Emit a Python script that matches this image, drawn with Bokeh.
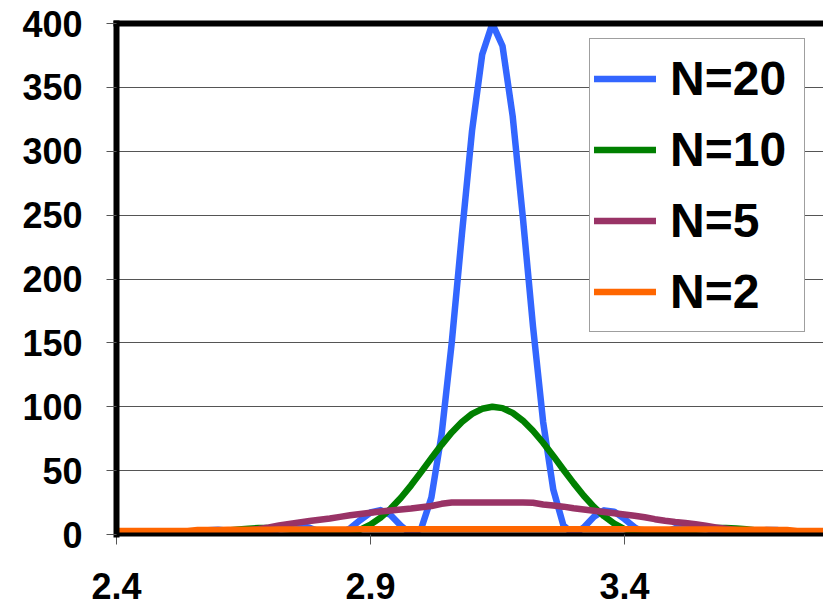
from bokeh.plotting import figure
from bokeh.models import Range1d, FixedTicker, LinearAxis, Legend, LegendItem
from bokeh.embed import file_html
from bokeh.resources import INLINE

# ---- data ----
x = [2.40, 2.42, 2.44, 2.46, 2.48, 2.50, 2.52, 2.54, 2.56, 2.58,
     2.60, 2.62, 2.64, 2.66, 2.68, 2.70, 2.72, 2.74, 2.76, 2.78,
     2.80, 2.82, 2.84, 2.86, 2.88, 2.90, 2.92, 2.94, 2.96, 2.98,
     3.00, 3.02, 3.04, 3.06, 3.08, 3.10, 3.12, 3.14, 3.16, 3.18,
     3.20, 3.22, 3.24, 3.26, 3.28, 3.30, 3.32, 3.34, 3.36, 3.38,
     3.40, 3.42, 3.44, 3.46, 3.48, 3.50, 3.52, 3.54, 3.56, 3.58,
     3.60, 3.62, 3.64, 3.66, 3.68, 3.70, 3.72, 3.74, 3.76, 3.78,
     3.80]

n20 = [1.3, 2.1, 2.4, 1.9, 1.0, 0.2, 0.1, 0.8, 2.2, 3.3,
       3.7, 2.9, 1.4, 0.2, 0.2, 1.7, 4.2, 6.3, 6.9, 5.3,
       2.4, 0.2, 0.7, 4.8, 11.3, 17.2, 19.1, 15.1, 6.8, 0.3,
       4.7, 28.9, 78.0, 150.0, 234.7, 316.0, 375.7, 399.9, 382.4, 327.5,
       248.4, 163.0, 88.1, 35.1, 7.0, 0.0, 5.5, 13.9, 18.9, 17.9,
       12.2, 5.7, 1.1, 0.1, 2.0, 4.9, 6.8, 6.6, 4.6, 2.1,
       0.3, 0.1, 1.2, 2.7, 3.6, 3.5, 2.3, 0.9, 0.1, 0.1,
       0.9]

n10 = [1.8, 1.5, 1.1, 0.7, 0.3, 0.1, 0.0, 0.2, 0.7, 1.4,
       2.2, 3.1, 3.9, 4.6, 5.0, 5.0, 4.6, 3.9, 2.8, 1.7,
       0.7, 0.1, 0.2, 1.3, 3.8, 7.7, 13.2, 20.3, 28.8, 38.5,
       49.0, 59.8, 70.2, 79.9, 88.1, 94.4, 98.4, 100.0, 98.9, 95.2,
       89.2, 81.2, 71.8, 61.5, 50.7, 40.2, 30.3, 21.6, 14.3, 8.5,
       4.3, 1.6, 0.3, 0.0, 0.5, 1.5, 2.6, 3.7, 4.5, 5.0,
       5.0, 4.7, 4.1, 3.2, 2.3, 1.5, 0.8, 0.3, 0.0, 0.0,
       0.2]

n5 = [0.8, 0.7, 0.6, 0.5, 0.4, 0.3, 0.3, 0.4, 0.6, 0.9,
      1.3, 1.8, 2.5, 3.3, 4.3, 5.5, 7.0, 8.3, 9.5, 10.5,
      11.5, 12.5, 13.8, 15.0, 16.0, 17.0, 18.0, 18.8, 19.5, 20.3,
      21.3, 22.3, 24.0, 25.0, 25.0, 25.0, 25.0, 25.0, 25.0, 25.0,
      25.0, 24.8, 23.5, 22.7, 21.8, 20.6, 19.6, 18.6, 17.6, 16.6,
      15.6, 14.6, 13.5, 12.0, 10.8, 9.8, 9.0, 8.0, 6.8, 5.6,
      4.5, 3.5, 2.6, 1.9, 1.3, 0.9, 0.6, 0.4, 0.3, 0.3,
      0.4]

n2 = [2.7, 2.7, 2.7, 2.7, 2.7, 2.7, 2.7, 2.7, 3.5, 3.6,
      3.6, 3.7, 3.7, 3.8, 3.8, 3.8, 3.9, 3.9, 3.9, 4.0,
      4.0, 4.0, 4.0, 4.0, 4.1, 4.1, 4.1, 4.1, 4.1, 4.2,
      4.2, 4.2, 4.2, 4.2, 4.2, 4.2, 4.2, 4.2, 4.2, 4.2,
      4.2, 4.2, 4.2, 4.2, 4.2, 4.2, 4.2, 4.1, 4.1, 4.1,
      4.1, 4.1, 4.0, 4.0, 4.0, 4.0, 4.0, 3.9, 3.9, 3.9,
      3.8, 3.8, 3.8, 3.7, 3.7, 3.6, 3.6, 2.7, 2.7, 2.7,
      2.7]

series_labels = ["N=20", "N=10", "N=5", "N=2"]
series_values = [n20, n10, n5, n2]
series_colors = ["#3366FF", "#008000", "#993366", "#FF6600"]

x_ticks = [2.4, 2.9, 3.4]
x_tick_labels = ["2.4", "2.9", "3.4"]
y_ticks = [0, 50, 100, 150, 200, 250, 300, 350, 400]

FONT = "Liberation Sans"

p = figure(width=823, height=608, output_backend="svg", toolbar_location=None,
           x_range=Range1d(2.4, 3.792), y_range=Range1d(0, 400),
           min_border_left=116, min_border_right=0, min_border_top=23,
           min_border_bottom=74, background_fill_color="white",
           border_fill_color="white")
p.outline_line_color = None
p.xgrid.grid_line_color = None
p.ygrid.ticker = FixedTicker(ticks=y_ticks)
p.ygrid.grid_line_color = "#555555"
p.ygrid.grid_line_width = 1

renderers = []
for lab, vals, col in zip(series_labels, series_values, series_colors):
    r = p.line(x, vals, line_width=6.5, line_color=col,
               line_join="round", line_cap="round")
    renderers.append((lab, r))

# y axis
ya = p.yaxis[0]
ya.ticker = FixedTicker(ticks=y_ticks)
ya.axis_line_width = 6
ya.axis_line_color = "black"
ya.axis_line_cap = "square"
ya.major_tick_out = 10
ya.major_tick_in = 0
ya.minor_tick_out = 0
ya.minor_tick_in = 0
ya.major_tick_line_color = "#555555"
ya.major_label_text_font = FONT
ya.major_label_text_font_style = "bold"
ya.major_label_text_font_size = "36px"
ya.major_label_text_color = "black"
ya.major_label_standoff = 24

# x axis
xa = p.xaxis[0]
xa.ticker = FixedTicker(ticks=x_ticks)
xa.major_label_overrides = {t: l for t, l in zip(x_ticks, x_tick_labels)}
xa.axis_line_width = 4
xa.axis_line_color = "black"
xa.major_tick_out = 10
xa.major_tick_in = 0
xa.minor_tick_out = 0
xa.minor_tick_in = 0
xa.major_tick_line_color = "#555555"
xa.major_label_text_font = FONT
xa.major_label_text_font_style = "bold"
xa.major_label_text_font_size = "36px"
xa.major_label_text_color = "black"
xa.major_label_text_line_height = 0.6
xa.major_label_standoff = 28

# top border line
top = LinearAxis(ticker=FixedTicker(ticks=[]), axis_line_width=6,
                 axis_line_color="black", axis_line_cap="square",
                 major_tick_out=0, major_tick_in=0, minor_tick_out=0,
                 minor_tick_in=0, major_label_text_font_size="0px",
                 major_label_standoff=0)
p.add_layout(top, "above")

legend = Legend(items=[LegendItem(label=lab, renderers=[r]) for lab, r in renderers],
                location=(473, 202), orientation="vertical",
                glyph_width=62, glyph_height=71, label_height=71,
                label_width=130, label_standoff=14, padding=4, spacing=0,
                margin=0, border_line_color="#404040", border_line_width=1,
                background_fill_color="white", background_fill_alpha=1.0,
                label_text_font=FONT, label_text_font_style="bold",
                label_text_font_size="48px", label_text_color="black",
                label_text_baseline="middle")
p.add_layout(legend, "center")

open("out.html", "w").write(file_html(p, INLINE))
